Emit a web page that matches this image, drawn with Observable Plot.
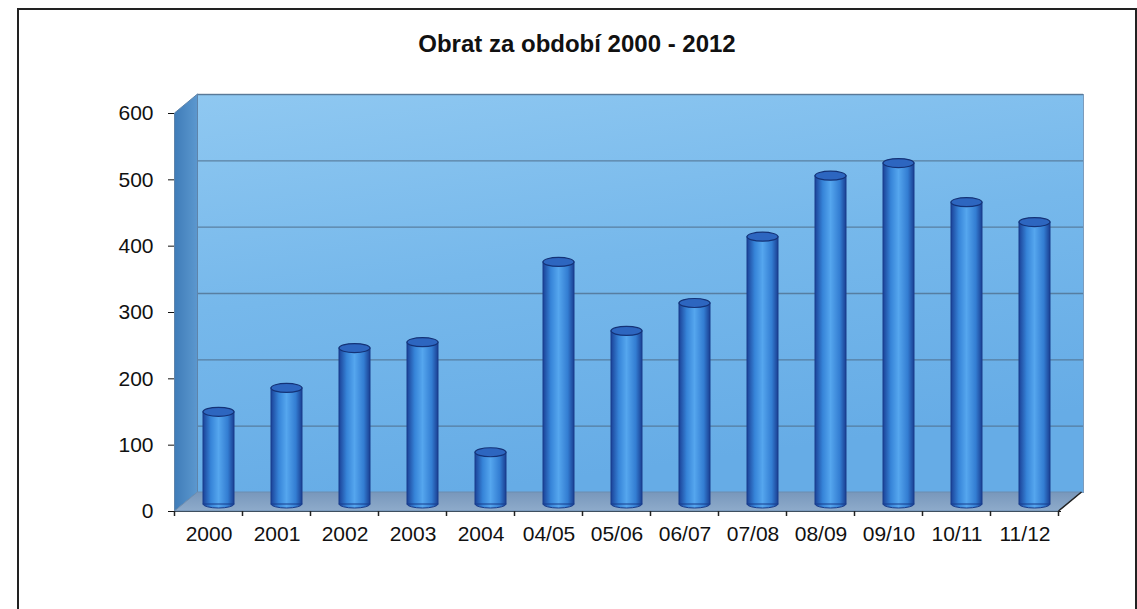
<!DOCTYPE html>
<html><head><meta charset="utf-8">
<script src="https://cdn.jsdelivr.net/npm/d3@7"></script>
<script src="https://cdn.jsdelivr.net/npm/@observablehq/plot@0.6"></script>
<style>
body{margin:0;background:#fff;font-family:Arial,"Liberation Sans",sans-serif;overflow:hidden;}
#box{position:absolute;left:17px;top:8px;width:1116px;height:660px;border:2px solid #222;border-bottom:none;}
#title{height:52px;box-sizing:border-box;padding-top:20px;text-align:center;font-weight:bold;font-size:24px;line-height:28px;color:#111;}
#chart svg{display:block;}
</style></head><body>
<div id="box"><div id="title">Obrat za období 2000 - 2012</div><div id="chart"></div></div>
<script>
const categories = ["2000","2001","2002","2003","2004","04/05","05/06","06/07","07/08","08/09","09/10","10/11","11/12"];
const values = [139, 175, 235, 244, 78, 365, 261, 303, 403, 495, 514, 455, 425];
const yTicks = [0, 100, 200, 300, 400, 500, 600];

const data = categories.map((c, i) => ({c, v: values[i]}));
const DX = 23, DY = -19;   // depth of the back wall
const BDX = 10, BDY = -7;  // depth of the cylinders

const plot = Plot.plot({
  width: 1116, height: 547,
  marginLeft: 155, marginRight: 75, marginTop: 51, marginBottom: 98,
  x: {domain: categories, paddingInner: 0.54, paddingOuter: 0.27, label: null, tickSize: 0, tickPadding: 15, line: true},
  y: {domain: [0, 600], ticks: yTicks, label: null, tickSize: 6, tickPadding: 15, line: true},
  style: {fontFamily: "Arial, 'Liberation Sans', sans-serif", fontSize: "21px", color: "#111", background: "transparent", overflow: "visible"},
  marks: [
    Plot.frame({fill: "url(#wallGrad)", stroke: "#7d9cbc", dx: DX, dy: DY}),
    Plot.gridY(yTicks.slice(1), {stroke: "#50708f", strokeOpacity: 0.8, strokeWidth: 1.3, dx: DX, dy: DY}),
    Plot.barY(data, {x: "c", y: "v", fill: "url(#cylGrad)", stroke: "#183c8c", strokeWidth: 1, dx: BDX, dy: BDY})
  ]
});

const svg = d3.select(plot);
svg.selectAll('g[aria-label="x-axis tick label"] text, g[aria-label="y-axis tick label"] text').attr("font-size", 21);
const defs = svg.insert("defs", ":first-child");
const wg = defs.append("linearGradient").attr("id", "wallGrad").attr("x1", 0).attr("y1", 0).attr("x2", 0.3).attr("y2", 1);
wg.append("stop").attr("offset", "0%").attr("stop-color", "#8fc8f1");
wg.append("stop").attr("offset", "50%").attr("stop-color", "#76b8eb");
wg.append("stop").attr("offset", "100%").attr("stop-color", "#66ace6");
const cg = defs.append("linearGradient").attr("id", "cylGrad").attr("x1", 0).attr("y1", 0).attr("x2", 1).attr("y2", 0);
cg.append("stop").attr("offset", "0%").attr("stop-color", "#1b4298");
cg.append("stop").attr("offset", "25%").attr("stop-color", "#3684d8");
cg.append("stop").attr("offset", "50%").attr("stop-color", "#55a6ee");
cg.append("stop").attr("offset", "80%").attr("stop-color", "#337dd2");
cg.append("stop").attr("offset", "100%").attr("stop-color", "#1a3f92");
const lw = defs.append("linearGradient").attr("id", "leftWall").attr("x1", 0).attr("y1", 0).attr("x2", 1).attr("y2", 0);
lw.append("stop").attr("offset", "0%").attr("stop-color", "#3f7cb8");
lw.append("stop").attr("offset", "100%").attr("stop-color", "#5c98cf");
const fl = defs.append("linearGradient").attr("id", "floorGrad").attr("x1", 0).attr("y1", 0).attr("x2", 0).attr("y2", 1);
fl.append("stop").attr("offset", "0%").attr("stop-color", "#7897bb");
fl.append("stop").attr("offset", "100%").attr("stop-color", "#8eabcb");

const xs = plot.scale("x"), ys = plot.scale("y");
const c0 = xs.apply(categories[0]), c1 = xs.apply(categories[1]);
const step = c1 - c0;
const bw = xs.bandwidth;
const xL = c0 + bw / 2 - step / 2;
const xR = xs.apply(categories[categories.length - 1]) + bw / 2 + step / 2;
const y0 = ys.apply(0), yT = ys.apply(600);

// floor and left wall
const barG = svg.select('g[aria-label="bar"]');
const deco = svg.insert("g", 'g[aria-label="bar"]');
deco.append("path")
  .attr("d", `M${xL},${yT}L${xL + DX},${yT + DY}L${xL + DX},${y0 + DY}L${xL},${y0}Z`)
  .attr("fill", "url(#leftWall)").attr("stroke", "#5f84aa");
deco.append("path")
  .attr("d", `M${xL},${y0}L${xR},${y0}L${xR + DX},${y0 + DY}L${xL + DX},${y0 + DY}Z`)
  .attr("fill", "url(#floorGrad)").attr("stroke", "#6d8db0");

// cylinder caps
const rects = barG.selectAll("rect").nodes();
rects.forEach(node => {
  const r = d3.select(node);
  const x = +r.attr("x"), y = +r.attr("y"), w = +r.attr("width"), h = +r.attr("height");
  barG.insert("ellipse", "rect").attr("cx", x + w / 2).attr("cy", y + h).attr("rx", w / 2).attr("ry", 4)
    .attr("fill", "url(#cylGrad)").attr("stroke", "#183c8c");
});
rects.forEach(node => {
  const r = d3.select(node);
  const x = +r.attr("x"), y = +r.attr("y"), w = +r.attr("width");
  barG.append("ellipse").attr("cx", x + w / 2).attr("cy", y).attr("rx", w / 2).attr("ry", 4.5)
    .attr("fill", "#2d66c0").attr("stroke", "#143276").attr("stroke-width", 1.2);
});

// boundary ticks on the x axis
const tg = svg.append("g").attr("stroke", "#222").attr("stroke-width", 1.5);
for (let i = 0; i <= categories.length; i++) {
  const bx = xL + i * step;
  tg.append("line").attr("x1", bx).attr("x2", bx).attr("y1", y0).attr("y2", y0 + 5);
}
// right floor edge
tg.append("line").attr("x1", xR).attr("y1", y0).attr("x2", xR + DX).attr("y2", y0 + DY);

document.getElementById("chart").appendChild(plot);
</script>
</body></html>
